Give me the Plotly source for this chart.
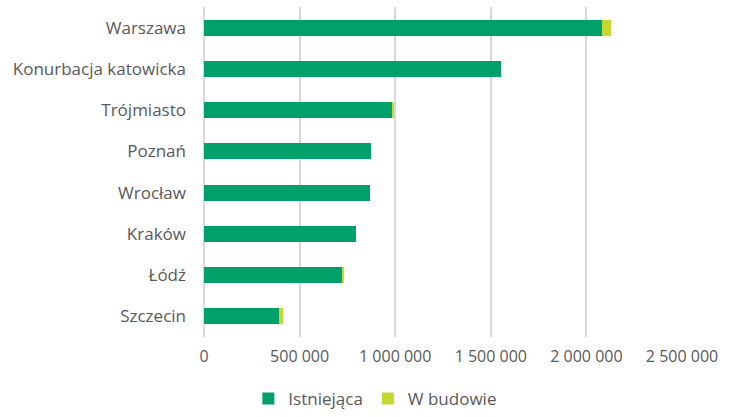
import plotly.graph_objects as go

categories = ["Warszawa", "Konurbacja katowicka", "Trójmiasto", "Poznań",
              "Wrocław", "Kraków", "Łódź", "Szczecin"]
istniejaca = [2079000, 1551000, 985000, 876000, 867000, 796000, 724000, 393000]
w_budowie = [51000, 0, 4000, 0, 0, 0, 9000, 21000]
x_ticks = [0, 500000, 1000000, 1500000, 2000000, 2500000]
x_tick_labels = ["0", "500 000", "1 000 000", "1 500 000", "2 000 000", "2 500 000"]

GREEN = "#00A06A"
LIME = "#C5D731"
TEXT = "#595959"
FONT = "Open Sans"

fig = go.Figure()
fig.add_trace(go.Bar(y=categories, x=istniejaca, name="Istniejąca", orientation="h",
                     marker=dict(color=GREEN, line=dict(width=0))))
fig.add_trace(go.Bar(y=categories, x=w_budowie, name="W budowie", orientation="h",
                     marker=dict(color=LIME, line=dict(width=0))))

fig.update_layout(
    width=736, height=417,
    barmode="stack", bargap=0.61,
    plot_bgcolor="white", paper_bgcolor="white",
    margin=dict(l=204, r=54, t=7, b=80, autoexpand=False),
    font=dict(family=FONT, size=16, color=TEXT),
    xaxis=dict(range=[0, 2500000], tickvals=x_ticks, ticktext=x_tick_labels,
               showgrid=True, gridcolor="#D9D9D9", gridwidth=2,
               zeroline=True, zerolinecolor="#D9D9D9", zerolinewidth=2,
               showline=False, ticks="", ticklabelstandoff=8, tickangle=0,
               tickfont=dict(size=16, color=TEXT)),
    yaxis=dict(autorange="reversed", showgrid=False, zeroline=False, showline=False,
               ticks="", ticklabelstandoff=17,
               tickfont=dict(size=17, color=TEXT)),
    legend=dict(orientation="h", xref="container", yref="container",
                x=0.51, xanchor="center", y=0.0, yanchor="bottom",
                font=dict(size=17, color=TEXT), itemwidth=30,
                traceorder="normal"),
    showlegend=True,
)

fig.write_html("out.html")
